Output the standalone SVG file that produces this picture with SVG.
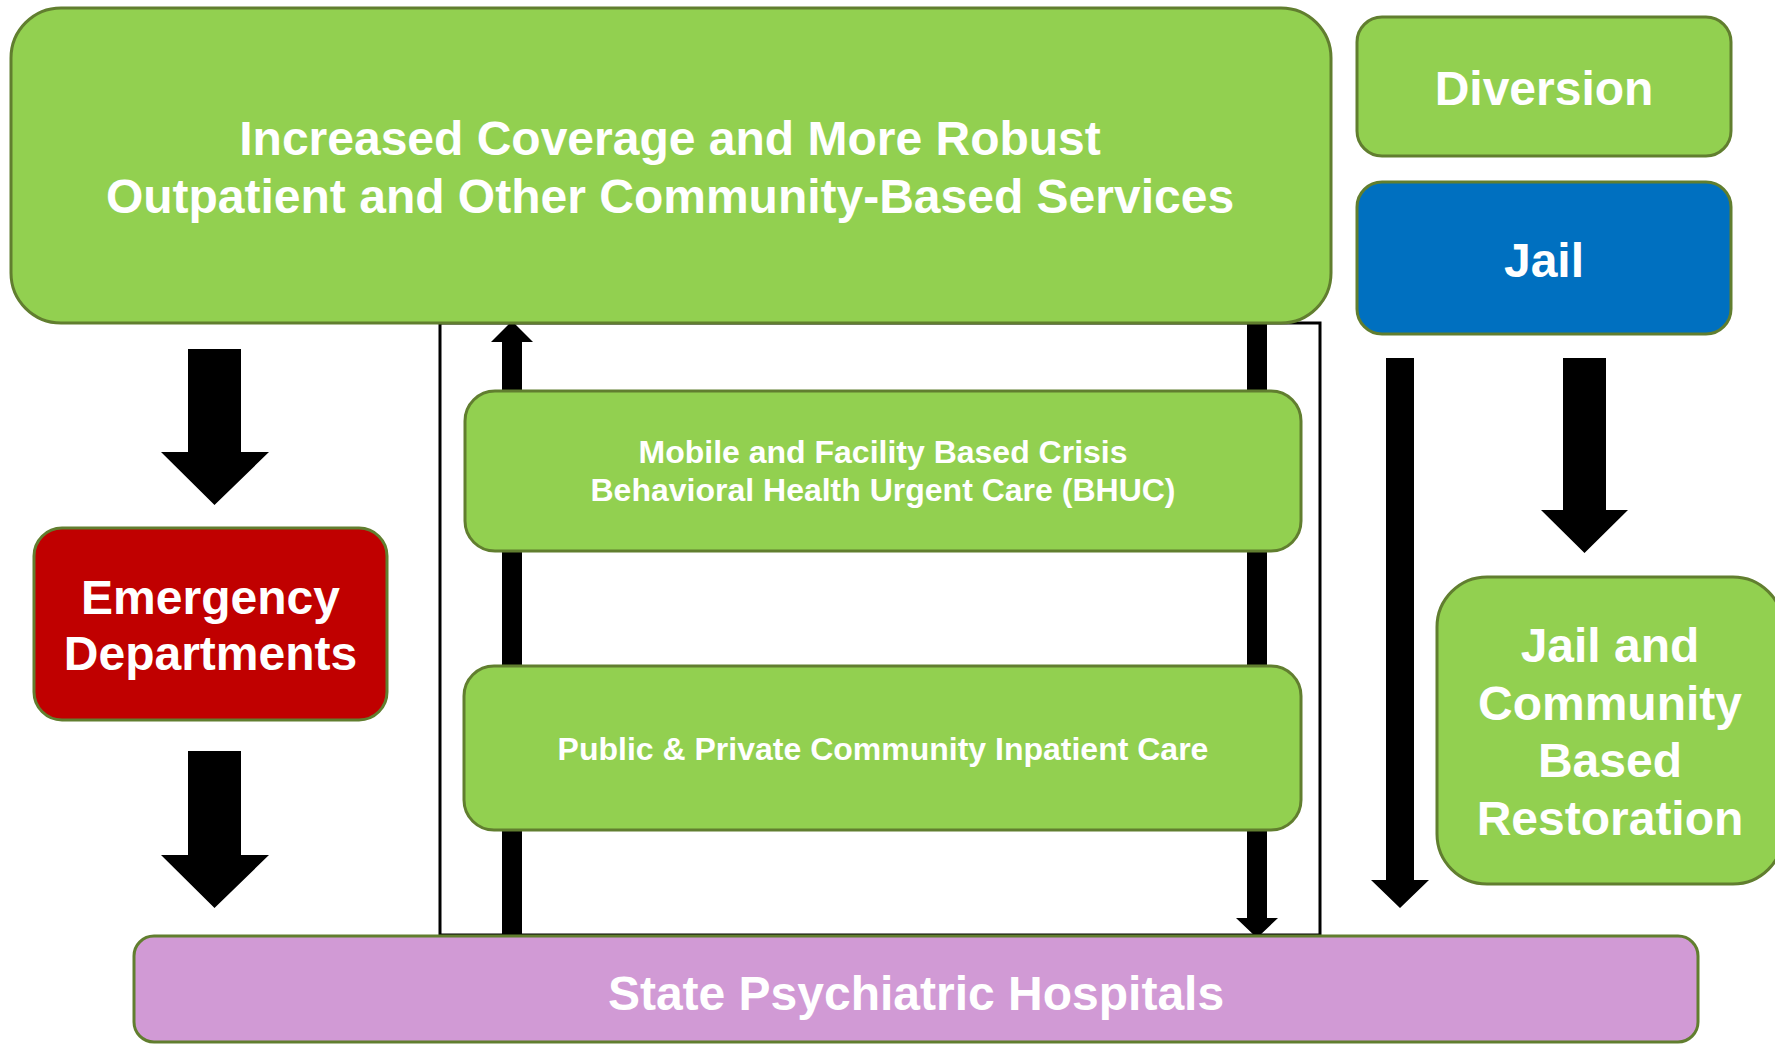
<svg xmlns="http://www.w3.org/2000/svg" width="1775" height="1045" viewBox="0 0 1775 1045">
<style>
.box{stroke:#617E2F;stroke-width:3}
.green{fill:#92D050}
.t{fill:#FFFFFF;font-family:"Liberation Sans",Arial,sans-serif;font-weight:bold;text-anchor:middle}
.big{font-size:48px}
.small{font-size:32px}
.arrow{fill:#000000}
</style>
<rect width="1775" height="1045" fill="#FFFFFF"/>
<g id="connectors">
<rect x="440" y="323" width="880" height="612" fill="none" stroke="#000000" stroke-width="3"/>
<polygon class="arrow" points="188,349 241,349 241,452 269,452 214.5,505 161,452 188,452"/>
<polygon class="arrow" points="188,751 241,751 241,855 269,855 214.5,908 161,855 188,855"/>
<polygon class="arrow" points="502,935 522,935 522,342 533,342 512,321 491,342 502,342"/>
<polygon class="arrow" points="1247,323 1267,323 1267,918 1278,918 1257,938 1236,918 1247,918"/>
<polygon class="arrow" points="1386,358 1414,358 1414,880 1429,880 1400,908 1371,880 1386,880"/>
<polygon class="arrow" points="1563,358 1606,358 1606,510 1628,510 1584.5,553 1541,510 1563,510"/>
</g>
<g id="community">
<rect class="box green" x="11" y="8" width="1320" height="315" rx="50" ry="50"/>
<text class="t big" x="670" y="155">Increased Coverage and More Robust</text>
<text class="t big" x="670" y="213">Outpatient and Other Community-Based Services</text>
</g>
<g id="diversion">
<rect class="box green" x="1357" y="17" width="374" height="139" rx="25" ry="25"/>
<text class="t big" x="1544" y="105">Diversion</text>
</g>
<g id="jail">
<rect class="box" fill="#0070C0" x="1357" y="182" width="374" height="152" rx="25" ry="25"/>
<text class="t big" x="1544" y="277">Jail</text>
</g>
<g id="emergency">
<rect class="box" fill="#C00000" x="34" y="528" width="353" height="192" rx="28" ry="28"/>
<text class="t big" x="210.5" y="614">Emergency</text>
<text class="t big" x="210.5" y="670">Departments</text>
</g>
<g id="bhuc">
<rect class="box green" x="465" y="391" width="836" height="160" rx="30" ry="30"/>
<text class="t small" x="883" y="463">Mobile and Facility Based Crisis</text>
<text class="t small" x="883" y="501">Behavioral Health Urgent Care (BHUC)</text>
</g>
<g id="inpatient">
<rect class="box green" x="464" y="666" width="837" height="164" rx="30" ry="30"/>
<text class="t small" x="883" y="760">Public &amp; Private Community Inpatient Care</text>
</g>
<g id="restoration">
<rect class="box green" x="1437" y="577" width="346" height="307" rx="50" ry="50"/>
<text class="t big" x="1610" y="662">Jail and</text>
<text class="t big" x="1610" y="720">Community</text>
<text class="t big" x="1610" y="777">Based</text>
<text class="t big" x="1610" y="835">Restoration</text>
</g>
<g id="state">
<rect class="box" fill="#D19AD5" x="134" y="936" width="1564" height="106" rx="20" ry="20"/>
<text class="t big" x="916" y="1010">State Psychiatric Hospitals</text>
</g>
</svg>
